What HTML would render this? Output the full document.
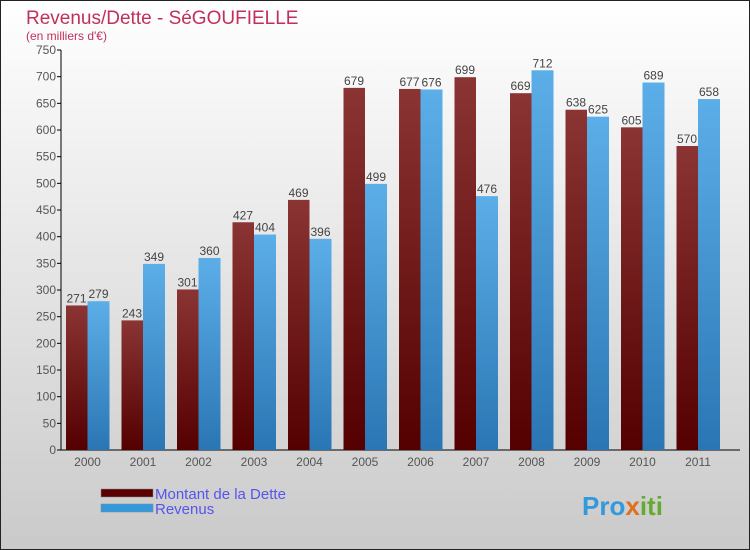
<!DOCTYPE html>
<html><head><meta charset="utf-8"><style>
body{margin:0;}
svg{display:block;font-family:"Liberation Sans",sans-serif;}
</style></head><body>
<svg id="c" width="750" height="550">
<defs>
<linearGradient id="bg" x1="0" y1="0" x2="0" y2="1"><stop offset="0" stop-color="#ffffff"/><stop offset="1" stop-color="#cacaca"/></linearGradient>
<linearGradient id="gd" x1="0" y1="0" x2="0" y2="1"><stop offset="0" stop-color="#8a3434"/><stop offset="1" stop-color="#550000"/></linearGradient>
<linearGradient id="gr" x1="0" y1="0" x2="0" y2="1"><stop offset="0" stop-color="#5caee8"/><stop offset="1" stop-color="#2a76b4"/></linearGradient>
</defs>
<rect x="0.5" y="0.5" width="749" height="549" fill="url(#bg)" stroke="#222"/>
<text x="26" y="24" font-size="19" fill="#c0305a">Revenus/Dette - SéGOUFIELLE</text>
<text x="26" y="40" font-size="12" fill="#c0305a">(en milliers d'€)</text>
<g id="axes"></g>
<g id="bars"></g>
<rect x="101" y="489" width="52" height="8" fill="#5a0000" stroke="#888" stroke-width="0.5"/>
<text x="155" y="499" font-size="15" fill="#5555ee">Montant de la Dette</text>
<rect x="101" y="504" width="52" height="8" fill="#3399dd" stroke="#888" stroke-width="0.5"/>
<text x="155" y="514" font-size="15" fill="#5555ee">Revenus</text>
<text x="582" y="515" font-size="26" font-weight="bold" fill="#3399dd">Pro<tspan fill="#e07020">x</tspan><tspan fill="#66aa33">iti</tspan></text>
</svg>
<script>
const categories=["2000","2001","2002","2003","2004","2005","2006","2007","2008","2009","2010","2011"];
const dette=[271,243,301,427,469,679,677,699,669,638,605,570];
const revenus=[279,349,360,404,396,499,676,476,712,625,689,658];
const yTicks=[0,50,100,150,200,250,300,350,400,450,500,550,600,650,700,750];
const NS="http://www.w3.org/2000/svg";
const y=v=>450-v*400/750;
const xc=i=>87.5+i*55.5;
function mk(t,a,p,txt){const e=document.createElementNS(NS,t);for(const k in a)e.setAttribute(k,a[k]);if(txt!==undefined)e.textContent=txt;p.appendChild(e);return e;}
const ax=document.getElementById('axes'),bg=document.getElementById('bars');
let l=mk('line',{x1:61,y1:50,x2:61,y2:450,stroke:'#000'},ax);


l=mk('line',{x1:61,y1:450,x2:740,y2:450,stroke:'#000'},ax);


yTicks.forEach(v=>{
 const t=mk('line',{x1:57,y1:y(v),x2:61,y2:y(v),stroke:'#000'},ax);
 
 
 const s=mk('text',{x:56,y:y(v)+4,'font-size':12,fill:'#555','text-anchor':'end'},ax,v);
 
 
});
categories.forEach((c,i)=>{
 const s=mk('text',{x:xc(i),y:466,'font-size':12,fill:'#555','text-anchor':'middle'},ax,c);
 
 
 const r1=mk('rect',{x:xc(i)-21.5,y:y(dette[i]),width:21.5,height:450-y(dette[i]),fill:'url(#gd)'},bg);
 
 
 const r2=mk('rect',{x:xc(i),y:y(revenus[i]),width:22,height:450-y(revenus[i]),fill:'url(#gr)'},bg);
 
 
 const t1=mk('text',{x:xc(i)-11,y:y(dette[i])-3,'font-size':12,fill:'#444','text-anchor':'middle'},bg,dette[i]);
 
 
 const t2=mk('text',{x:xc(i)+11,y:y(revenus[i])-3,'font-size':12,fill:'#444','text-anchor':'middle'},bg,revenus[i]);
 
 
});
</script>
</body></html>
